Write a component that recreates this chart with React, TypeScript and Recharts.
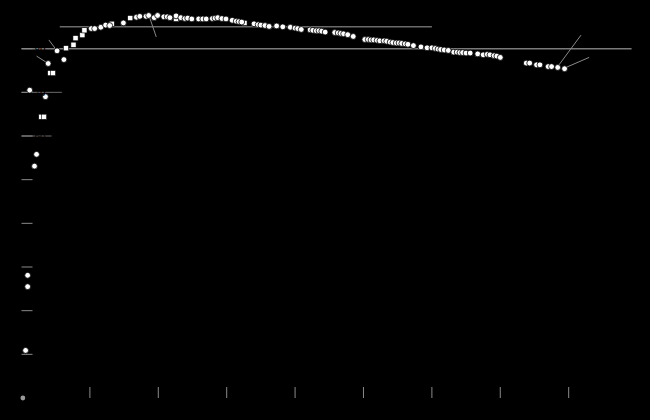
import React from "react";
import { ScatterChart, Scatter, XAxis, YAxis, ReferenceLine } from "recharts";

const circleX = [0.6, 0.9, 0.9, 1.9, 2.2, 1.2, 3.5, 3.9, 5.2, 6.2,
  10.2, 10.7, 11.6, 12.3, 12.9, 14.9, 16.8, 17.3, 18.2, 18.6, 19.4, 19.9, 20.8, 21.3, 21.7, 22.6,
  23.3, 23.9, 24.3, 24.9, 25.9, 26.5, 27.0, 27.9, 28.3, 28.7, 29.3, 29.9,
  30.8, 31.4, 31.8, 32.2, 34.0, 34.6, 35.0, 35.6, 36.2,
  37.3, 38.2, 39.3, 40.0, 40.4, 40.9, 42.2, 42.6, 43.1, 43.5, 43.9, 44.4,
  45.8, 46.3, 46.7, 47.1, 47.7, 48.5, 50.2, 50.7, 51.1, 51.5, 52.0, 52.4, 53.0, 53.4,
  53.9, 54.3, 54.8, 55.2, 55.6, 56.1, 56.5, 57.3, 58.4, 59.3,
  60.0, 60.5, 60.9, 61.3, 61.8, 62.4, 63.2, 63.7, 64.1, 64.5, 65.0, 65.6,
  66.7, 67.5, 68.1, 68.5, 69.1, 69.5, 70.0,
  73.8, 74.3, 75.3, 75.8, 77.0, 77.5, 78.4, 79.4];
const circleY = [10.9, 28.1, 25.5, 53.1, 55.8, 70.5, 69.0, 76.6, 79.5, 77.5,
  84.6, 84.6, 84.9, 85.4, 85.3, 85.9, 87.2, 87.4, 87.4, 87.6, 87.1, 87.6, 87.3, 87.3, 87.1, 87.5,
  87.1, 86.9, 87.0, 86.8, 86.8, 86.8, 86.8, 86.9, 87.0, 87.1, 86.9, 86.8,
  86.5, 86.3, 86.2, 86.1, 85.7, 85.5, 85.4, 85.3, 85.1,
  85.2, 85.0, 84.9, 84.7, 84.6, 84.4, 84.3, 84.2, 84.1, 84.1, 84.0, 83.8,
  83.7, 83.6, 83.5, 83.4, 83.2, 82.8, 82.1, 82.1, 82.0, 82.0, 81.9, 81.8, 81.8, 81.7,
  81.5, 81.4, 81.3, 81.3, 81.2, 81.1, 81.0, 80.7, 80.4, 80.2,
  80.2, 80.05, 79.9, 79.8, 79.7, 79.6, 79.2, 79.2, 79.1, 79.1, 79.0, 79.0,
  78.8, 78.6, 78.7, 78.6, 78.4, 78.3, 78.0,
  76.7, 76.7, 76.3, 76.3, 75.9, 75.9, 75.7, 75.4];

const squareX = [2.9, 3.3, 4.2, 4.6, 6.5, 7.6, 7.9, 8.9, 9.2, 13.2, 15.9, 22.6, 32.6];
const squareY = [64.4, 64.4, 74.4, 74.4, 80.1, 80.9, 82.4, 83.1, 84.2, 85.7, 87.0, 86.8, 85.9];

const originX = [0.2];
const originY = [0];

const xTicks = [10, 20, 30, 40, 50, 60, 70, 80];
const yTicks = [10, 20, 30, 40, 50, 60, 70, 80];

const mainLevel = 80;
const upperLevel = 85;
const upperSpan = [5.6, 60.0];
const leftSegments = [
  { y: 70, x: 5.9 },
  { y: 60, x: 4.4 },
];
const leaderLines = [
  [{ x: 2.2, y: 78.3 }, { x: 3.9, y: 76.6 }],
  [{ x: 4.0, y: 82.0 }, { x: 5.2, y: 79.5 }],
  [{ x: 18.7, y: 87.3 }, { x: 19.7, y: 82.7 }],
  [{ x: 78.4, y: 75.9 }, { x: 81.8, y: 83.1 }],
  [{ x: 79.6, y: 75.7 }, { x: 83.0, y: 78.0 }],
];

const zip = (xs: number[], ys: number[]) => xs.map((x, i) => ({ x, y: ys[i] }));
const circles = zip(circleX, circleY);
const squares = zip(squareX, squareY);
const origin = zip(originX, originY);

const Dot = (p: any) => (
  <circle cx={p.cx} cy={p.cy} r={2.9} fill="#ffffff" stroke="#000" strokeWidth={0.8} />
);
const DimDot = (p: any) => <circle cx={p.cx} cy={p.cy} r={2.4} fill="#9a9a9a" />;
const Sq = (p: any) => (
  <rect x={p.cx - 2.6} y={p.cy - 2.6} width={5.2} height={5.2} fill="#ffffff" stroke="#000" strokeWidth={0.6} />
);

export default function App() {
  return (
    <div style={{ position: "fixed", left: 0, top: 0, width: 650, height: 420, background: "#000" }}>
      <ScatterChart width={650} height={420} margin={{ top: 5, right: 18.4, bottom: 22, left: 21.5 }}>
        <XAxis
          type="number"
          dataKey="x"
          domain={[0, 89.2]}
          ticks={xTicks}
          mirror
          axisLine={false}
          tickSize={11}
          tickLine={{ stroke: "#8a8a8a" }}
          tick={{ fill: "#000", fontSize: 11 }}
        />
        <YAxis
          type="number"
          dataKey="y"
          domain={[0, 90]}
          ticks={yTicks}
          mirror
          axisLine={false}
          tickSize={11}
          tickLine={{ stroke: "#8a8a8a" }}
          tick={{ fill: "#000", fontSize: 11 }}
        />
        <ReferenceLine y={mainLevel} stroke="#7a7a7a" strokeWidth={1.5} />
        <ReferenceLine
          segment={[{ x: upperSpan[0], y: upperLevel }, { x: upperSpan[1], y: upperLevel }]}
          stroke="#6a6a6a"
          strokeWidth={1.5}
        />
        {leftSegments.map((s, i) => (
          <ReferenceLine
            key={"ls" + i}
            segment={[{ x: 0, y: s.y }, { x: s.x, y: s.y }]}
            stroke="#6a6a6a"
            strokeWidth={1}
          />
        ))}
        {leaderLines.map((seg, i) => (
          <ReferenceLine key={"ll" + i} segment={seg} stroke="#8a8a8a" strokeWidth={1} />
        ))}
        <Scatter data={origin} shape={DimDot} isAnimationActive={false} />
        <Scatter data={squares} shape={Sq} isAnimationActive={false} />
        <Scatter data={circles} shape={Dot} isAnimationActive={false} />
      </ScatterChart>
    </div>
  );
}
